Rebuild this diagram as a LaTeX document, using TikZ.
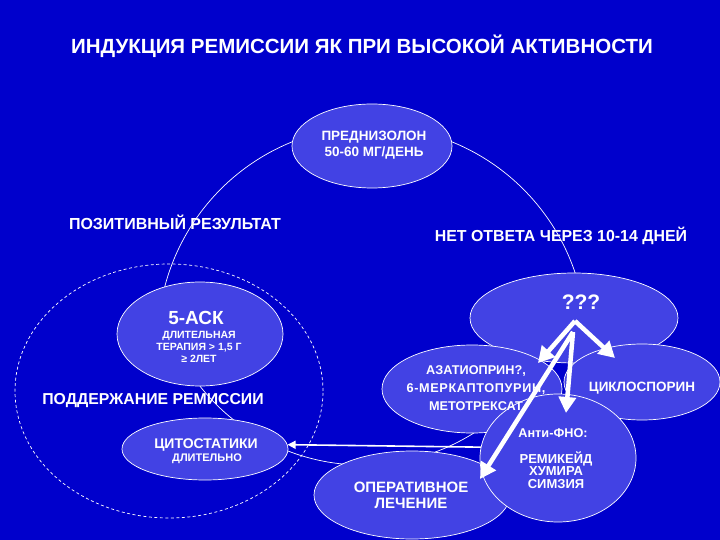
\documentclass[tikz,border=0pt]{standalone}
\usepackage{fontspec}
\setmainfont{Liberation Sans}
\usetikzlibrary{shapes.geometric,arrows.meta}
\definecolor{bg}{RGB}{0,0,204}
\definecolor{efill}{RGB}{66,66,228}
\begin{document}
\begin{tikzpicture}[x=1pt,y=-1pt,
  blob/.style={ellipse,draw=white,line width=0.7pt,fill=efill,inner sep=0pt},
  txt/.style={text=white,font=\bfseries,align=center,inner sep=0pt},
  thinline/.style={draw=white,line width=0.7pt},
  warrow/.style={draw=white,line width=4.5pt,-{Triangle[length=16pt,width=17pt]}},
  harrow/.style={draw=white,line width=1.6pt,-{Triangle[length=8pt,width=8pt]}}]

\fill[bg] (0,0) rectangle (720,540);
\useasboundingbox (0,0) rectangle (720,540);

% dashed maintenance circle
\node[ellipse,draw=white,line width=0.7pt,dash pattern=on 3pt off 2.5pt,
  minimum width=308pt,minimum height=254pt,inner sep=0pt] (maint) at (169,391) {};

% centres of the ellipses
\coordinate (cpred) at (372,146);
\coordinate (cask) at (200,334);
\coordinate (ccyt) at (205,449);
\coordinate (cq) at (574,318);
\coordinate (ccyc) at (642,382);
\coordinate (caza) at (472,389);
\coordinate (coper) at (412,495);
\coordinate (canti) at (558,458);

% anchor placeholders for the arcs
\node[ellipse,inner sep=0pt,minimum width=160pt,minimum height=84pt] (pred) at (cpred) {};
\node[ellipse,inner sep=0pt,minimum width=166pt,minimum height=104pt] (ask) at (cask) {};

% big cycle arcs
\draw[thinline] (pred.177) arc[start angle=-112,end angle=-167,radius=215];
\draw[thinline] (pred.3) arc[start angle=-68,end angle=-17,radius=215];
\draw[thinline] (ask.south) arc[start angle=141.6,end angle=40,radius=208];

% ellipses
\node[blob,minimum width=160pt,minimum height=84pt] (predE) at (cpred) {};
\node[blob,minimum width=166pt,minimum height=104pt] (askE) at (cask) {};
\node[blob,minimum width=166pt,minimum height=62pt] (cyt) at (ccyt) {};
\node[blob,minimum width=208pt,minimum height=90pt] (q) at (cq) {};
\node[blob,minimum width=156pt,minimum height=76pt] (cyc) at (ccyc) {};
\node[blob,minimum width=180pt,minimum height=88pt] (aza) at (caza) {};
\node[blob,minimum width=196pt,minimum height=88pt] (oper) at (coper) {};
\node[blob,minimum width=156pt,minimum height=128pt] (anti) at (canti) {};

% texts
\node[txt,font=\bfseries\fontsize{20.5}{23}\selectfont] (title) at (362,46)
  {ИНДУКЦИЯ РЕМИССИИ ЯК ПРИ ВЫСОКОЙ АКТИВНОСТИ};
\node[txt,font=\bfseries\fontsize{16}{18}\selectfont] (pos) at (175,222) {ПОЗИТИВНЫЙ РЕЗУЛЬТАТ};
\node[txt,font=\bfseries\fontsize{15.9}{18}\selectfont] (net) at (561,236) {НЕТ ОТВЕТА ЧЕРЕЗ 10-14 ДНЕЙ};
\node[txt,font=\bfseries\fontsize{15.8}{18}\selectfont] (pod) at (153,401) {ПОДДЕРЖАНИЕ РЕМИССИИ};

\node[txt,font=\bfseries\fontsize{13.5}{16}\selectfont] (predtxt) at (374,145) {ПРЕДНИЗОЛОН\\50-60 МГ/ДЕНЬ};
\node[txt,font=\bfseries\fontsize{19}{22}\selectfont] (asktitle) at (196,318) {5-АСК};
\node[txt,font=\bfseries\fontsize{10.5}{12}\selectfont] (askbody) at (199,347) {ДЛИТЕЛЬНАЯ\\ТЕРАПИЯ > 1,5 Г\\≥ 2ЛЕТ};
\node[txt,font=\bfseries\fontsize{14}{16}\selectfont] (cyttitle) at (206,445) {ЦИТОСТАТИКИ};
\node[txt,font=\bfseries\fontsize{11}{13}\selectfont] (cytbody) at (207,459) {ДЛИТЕЛЬНО};
\node[txt,font=\bfseries\fontsize{21}{24}\selectfont] (qtxt) at (581,302) {???};
\node[txt,font=\bfseries\fontsize{12.7}{18}\selectfont] (azatxt) at (476,388)
  {АЗАТИОПРИН?,\\{\addfontfeature{LetterSpace=5}6-МЕРКАПТОПУРИН,}\\МЕТОТРЕКСАТ};
\node[txt,font=\bfseries\fontsize{13.5}{16}\selectfont] (cyctxt) at (642,388) {ЦИКЛОСПОРИН};
\node[txt,font=\bfseries\fontsize{12.7}{15}\selectfont] (antititle) at (553,433) {Анти-ФНО:};
\node[txt,font=\bfseries\fontsize{13}{12.5}\selectfont] (antibody) at (556,470) {РЕМИКЕЙД\\ХУМИРА\\СИМЗИЯ};
\node[txt,font=\bfseries\fontsize{15}{16}\selectfont] (opertxt) at (411,495) {ОПЕРАТИВНОЕ\\ЛЕЧЕНИЕ};

% arrows
\coordinate (qo) at (575,321);
\coordinate (qo2) at (573,332);
\coordinate (azat) at (538,363);
\coordinate (cyct) at (615,358);
\coordinate (antit) at (566,413);
\coordinate (opert) at (480,479);
\draw[warrow] (qo) -- (azat);
\draw[warrow] (qo) -- (cyct);
\draw[warrow] (qo2) -- (antit);
\draw[warrow] (qo2) -- (opert);
\draw[harrow] (anti.172) -- (cyt.3);
\end{tikzpicture}
\end{document}
